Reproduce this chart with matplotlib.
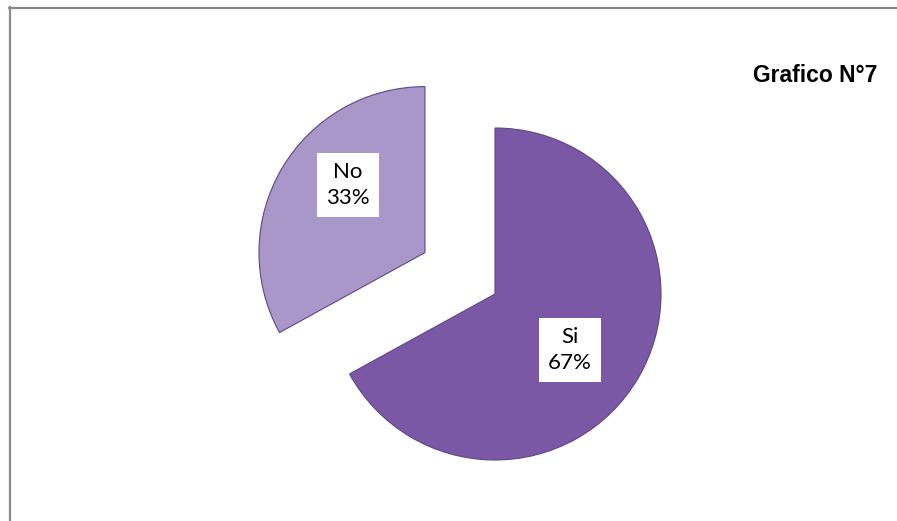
import matplotlib
matplotlib.use("Agg")
import matplotlib.pyplot as plt
from matplotlib.lines import Line2D

labels = ["Si", "No"]
values = [67, 33]
pct_labels = ["67%", "33%"]
colors = ["#7A58A6", "#A897C8"]
explode = [0.0, 0.49]

W, H = 897, 521
fig = plt.figure(figsize=(W / 100, H / 100), dpi=100)
fig.patch.set_facecolor("white")

# pie centre in pixels and radius
cx, cy, R = 495, 294, 166
ax = fig.add_axes([0, 0, 1, 1])
ax.axis("off")

wedges, _ = ax.pie(values, colors=colors, explode=explode, startangle=90,
                   counterclock=False, radius=1.0,
                   wedgeprops=dict(edgecolor="#5E4585", linewidth=0.8))
ax.set_aspect("auto")
ax.set_xlim(-cx / R, (W - cx) / R)
ax.set_ylim(-(H - cy) / R, cy / R)

label_pos = {"Si": ((570 - cx) / R, (cy - 350) / R),
             "No": ((348 - cx) / R, (cy - 185) / R)}
for lab, pct in zip(labels, pct_labels):
    x, y = label_pos[lab]
    ax.text(x, y, f"{lab}\n{pct}", ha="center", va="center", fontsize=16,
            family=["Lato", "DejaVu Sans"], color="black", linespacing=1.35,
            bbox=dict(boxstyle="square,pad=0.4", facecolor="white", edgecolor="none"))

fig.text(815 / W, 1 - 75 / H, "Grafico N°7", ha="center", va="center",
         fontsize=16.5, fontweight="bold", family=["Liberation Sans", "DejaVu Sans"])

# frame (top and left visible)
fig.add_artist(Line2D([9 / W, 1], [1 - 7.5 / H, 1 - 7.5 / H], transform=fig.transFigure,
                      color="#8a8a8a", linewidth=1.6))
fig.add_artist(Line2D([9.5 / W, 9.5 / W], [0, 1 - 7 / H], transform=fig.transFigure,
                      color="#8a8a8a", linewidth=1.6))

fig.savefig("out.png", dpi=100)
